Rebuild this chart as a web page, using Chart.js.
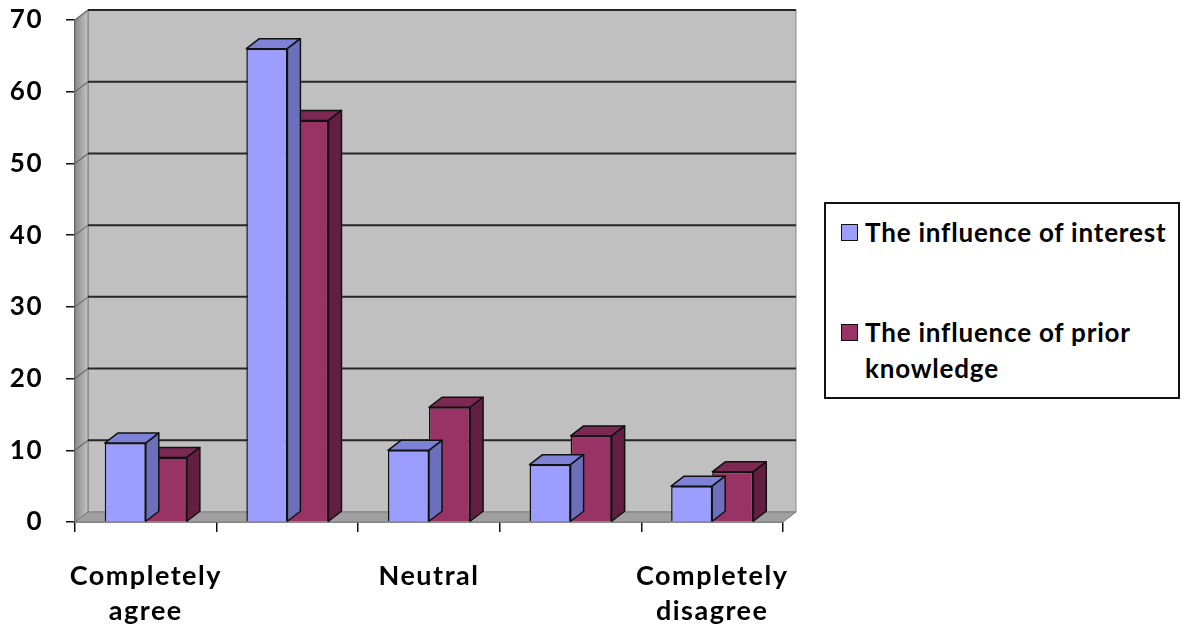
<!DOCTYPE html>
<html>
<head>
<meta charset="utf-8">
<script src="https://cdn.jsdelivr.net/npm/chart.js@4.4.0/dist/chart.umd.min.js"></script>
<style>
  html, body { margin: 0; padding: 0; background: #fff; }
  #wrap { position: relative; width: 1189px; height: 633px; overflow: hidden; }
  #chart { position: absolute; left: 0; top: 0; }
  #legend {
    position: absolute; left: 824px; top: 202px; width: 352px; height: 193px;
    border: 2px solid #111; background: #fff;
    font: bold 26px Lato, "Open Sans", sans-serif; color: #000; letter-spacing: 0.8px;
  }
  .item { position: absolute; left: 15px; width: 330px; line-height: 36px; }
  .swatch { position: absolute; left: 0; top: 10px; width: 15px; height: 15px; border: 1.5px solid #111; }
  .text { position: absolute; left: 24px; width: 310px; white-space: normal; }
</style>
</head>
<body>
<div id="wrap">
  <canvas id="chart" width="1189" height="633"></canvas>
  <div id="legend"></div>
</div>
<script>
// Survey answers, one bar pair per answer
const categories = ['Completely agree', 'Agree', 'Neutral', 'Disagree', 'Completely disagree'];
const axisLabels = [['Completely', 'agree'], '', 'Neutral', '', ['Completely', 'disagree']];
const seriesNames = ['The influence of interest', 'The influence of prior knowledge'];
const interestValues = [11, 66, 10, 8, 5];
const priorKnowledgeValues = [9, 56, 16, 12, 7];
const yTicks = [0, 10, 20, 30, 40, 50, 60, 70];

// depth of the extruded 3D look
const DX = 13, DY = 10;
const FONT = 'Lato, "Open Sans", sans-serif';

function poly(ctx, pts, fill, stroke, lw) {
  ctx.beginPath();
  ctx.moveTo(pts[0][0], pts[0][1]);
  for (let i = 1; i < pts.length; i++) ctx.lineTo(pts[i][0], pts[i][1]);
  ctx.closePath();
  if (fill) { ctx.fillStyle = fill; ctx.fill(); }
  if (stroke) { ctx.strokeStyle = stroke; ctx.lineWidth = lw || 1; ctx.stroke(); }
}

// slightly spaced lettering for the axis labels
const spacingPlugin = {
  id: 'spacing',
  beforeDraw(chart) { chart.ctx.letterSpacing = '1.5px'; }
};

// back wall, side wall, floor and gridlines behind the bars
const wallsPlugin = {
  id: 'walls',
  beforeDatasetsDraw(chart) {
    const { ctx, chartArea: a, scales: { y } } = chart;
    ctx.save();
    const L = a.left, R = a.right, T = a.top, B = a.bottom;
    poly(ctx, [[L + DX, T - DY], [R + DX, T - DY], [R + DX, B - DY], [L + DX, B - DY]], '#c0c0c0', '#8a8a8a', 1);
    const g = ctx.createLinearGradient(L, 0, L + DX, 0);
    g.addColorStop(0, '#8a8a8a');
    g.addColorStop(0.45, '#a4a4a4');
    g.addColorStop(1, '#c4c4c4');
    poly(ctx, [[L, T], [L + DX, T - DY], [L + DX, B - DY], [L, B]], g, '#7a7a7a', 1);
    poly(ctx, [[L, B], [L + DX, B - DY], [R + DX, B - DY], [R, B]], '#a0a0a0', '#7a7a7a', 1);
    yTicks.forEach(v => {
      if (v === 0) return;
      const py = y.getPixelForValue(v);
      ctx.beginPath();
      ctx.moveTo(L + DX, py - DY);
      ctx.lineTo(R + DX, py - DY);
      ctx.strokeStyle = '#262626';
      ctx.lineWidth = 2;
      ctx.stroke();
      ctx.beginPath();
      ctx.moveTo(L, py);
      ctx.lineTo(L + DX, py - DY);
      ctx.strokeStyle = '#6a6a6a';
      ctx.lineWidth = 1.2;
      ctx.stroke();
    });
    ctx.restore();
  },
  // top and side faces drawn right after each series so the next series overlaps them
  afterDatasetDraw(chart, args) {
    const { ctx } = chart;
    const ds = chart.data.datasets[args.index];
    ctx.save();
    ctx.lineJoin = 'round';
    args.meta.data.forEach(bar => {
      const { x, y, base, width } = bar.getProps(['x', 'y', 'base', 'width'], true);
      const l = x - width / 2, r = x + width / 2;
      poly(ctx, [[l, y], [l + DX, y - DY], [r + DX, y - DY], [r, y]], ds.topColor, '#111', 1.5);
      poly(ctx, [[r, y], [r + DX, y - DY], [r + DX, base - DY], [r, base]], ds.sideColor, '#111', 1.5);
    });
    ctx.restore();
  }
};

function draw() {
  const chart = new Chart(document.getElementById('chart'), {
    type: 'bar',
    data: {
      labels: categories,
      datasets: [
        {
          label: seriesNames[0], data: interestValues,
          backgroundColor: '#9b9dff', topColor: '#7e82d6', sideColor: '#6c70bb',
          borderColor: '#111', borderWidth: 1.5,
          categoryPercentage: 0.58, barPercentage: 1.0
        },
        {
          label: seriesNames[1], data: priorKnowledgeValues,
          backgroundColor: '#993366', topColor: '#7b2953', sideColor: '#631f42',
          borderColor: '#111', borderWidth: 1.5,
          categoryPercentage: 0.58, barPercentage: 1.0
        }
      ]
    },
    options: {
      responsive: false,
      devicePixelRatio: 1,
      animation: false,
      layout: { padding: { top: 20, right: 406, left: 0, bottom: 0 }, autoPadding: false },
      plugins: { legend: { display: false }, tooltip: { enabled: false } },
      scales: {
        x: {
          grid: { display: true, drawOnChartArea: false, drawTicks: true, tickLength: 10, color: '#111', lineWidth: 1.5, offset: true },
          border: { display: true, color: '#333', width: 1.5 },
          ticks: {
            autoSkip: false, maxRotation: 0, padding: 26, color: '#000',
            font: { family: FONT, size: 27, weight: 'bold', lineHeight: 1.32 },
            callback: (v, i) => axisLabels[i]
          },
          afterFit: s => { s.height = 111; s.paddingLeft = 0; s.paddingRight = 0; }
        },
        y: {
          min: 0, max: 70,
          afterBuildTicks: s => { s.ticks = yTicks.map(v => ({ value: v })); },
          grid: { display: true, drawOnChartArea: false, drawTicks: true, tickLength: 9, color: '#111', lineWidth: 1.5 },
          border: { display: true, color: '#555', width: 1.5 },
          ticks: { padding: 23, color: '#000', font: { family: FONT, size: 26, weight: 'bold' } },
          afterFit: s => { s.width = 75; s.paddingTop = 0; s.paddingBottom = 0; }
        }
      }
    },
    plugins: [spacingPlugin, wallsPlugin]
  });

  // legend box built from the chart's datasets
  const lg = document.getElementById('legend');
  const tops = [10, 110];
  chart.data.datasets.forEach((ds, i) => {
    const it = document.createElement('div');
    it.className = 'item';
    it.style.top = tops[i] + 'px';
    it.innerHTML = '<div class="swatch" style="background:' + ds.backgroundColor + '"></div><div class="text"></div>';
    it.querySelector('.text').textContent = ds.label;
    lg.appendChild(it);
  });
}

if (document.fonts && document.fonts.load) {
  document.fonts.load('bold 26px Lato').then(draw, draw);
} else {
  draw();
}
</script>
</body>
</html>
